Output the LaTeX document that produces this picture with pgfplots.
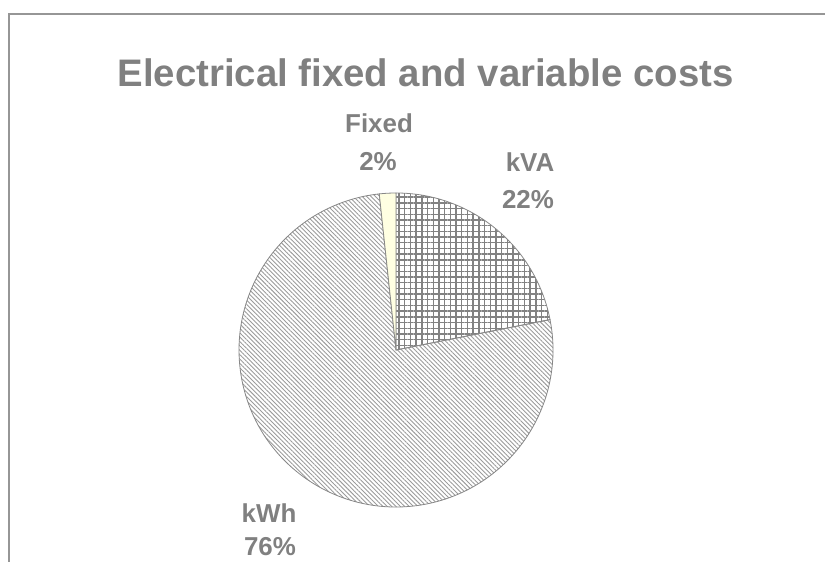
\documentclass[border=0pt]{standalone}
\usepackage{pgfplots}
\pgfplotsset{compat=1.18}
\usepackage{pgfplotstable}
\usetikzlibrary{patterns,patterns.meta}
\usepackage{fontspec}
\setmainfont{Liberation Sans}
\definecolor{txtgray}{RGB}{128,128,128}
\definecolor{edgegray}{RGB}{135,135,135}
\definecolor{gridgray}{RGB}{130,130,130}
\definecolor{hatchgray}{RGB}{155,155,155}
\definecolor{framegray}{RGB}{150,150,150}
\definecolor{fixedfill}{RGB}{255,255,226}

\pgfplotstableread{
label value
kVA 21.9
kWh 76.4
Fixed 1.7
}\costs

\begin{document}
\begin{tikzpicture}
\pgfplotstablegetelem{0}{value}\of\costs \let\vA\pgfplotsretval
\pgfplotstablegetelem{1}{value}\of\costs \let\vB\pgfplotsretval
\pgfplotstablegetelem{2}{value}\of\costs \let\vC\pgfplotsretval
\pgfmathsetmacro\aA{90}
\pgfmathsetmacro\aB{90-3.6*\vA}
\pgfmathsetmacro\aC{\aB-3.6*\vB}
\pgfmathsetmacro\aD{\aC-3.6*\vC}
\begin{axis}[name=ax, x=1bp, y=1bp, xmin=0, xmax=825, ymin=0, ymax=562,
  scale only axis, hide axis, clip=false]
% frame
\draw[framegray, line width=1.3bp] (axis cs:9,0) -- (axis cs:9,548) -- (axis cs:825,548);
% kVA
\addplot[draw=edgegray, line width=0.8bp, pattern={Hatch[angle=0,distance=5.7bp,line width=1.4bp]}, pattern color=gridgray]
  coordinates {(396,212)} -- ++(\aA:157bp) arc[start angle=\aA, end angle=\aB, radius=157bp] -- cycle;
% kWh
\addplot[draw=edgegray, line width=0.8bp, pattern={Lines[angle=-45,distance=3.1bp,line width=0.9bp]}, pattern color=hatchgray]
  coordinates {(396,212)} -- ++(\aB:157bp) arc[start angle=\aB, end angle=\aC, radius=157bp] -- cycle;
% Fixed
\addplot[draw=edgegray, line width=0.8bp, fill=fixedfill]
  coordinates {(396,212)} -- ++(\aC:157bp) arc[start angle=\aC, end angle=\aD, radius=157bp] -- cycle;
% title
\node[anchor=base, text=txtgray, font=\fontsize{38.5}{46}\selectfont\bfseries, inner sep=0pt]
  at (axis cs:425.5,475) {Electrical fixed and variable costs};
% labels
\node[anchor=base, text=txtgray, font=\fontsize{26}{30}\selectfont\bfseries, inner sep=0pt] at (axis cs:379,429) {Fixed};
\node[anchor=base, text=txtgray, font=\fontsize{26}{30}\selectfont\bfseries, inner sep=0pt] at (axis cs:378,391) {2\%};
\node[anchor=base, text=txtgray, font=\fontsize{26}{30}\selectfont\bfseries, inner sep=0pt] at (axis cs:530,390) {kVA};
\node[anchor=base, text=txtgray, font=\fontsize{26}{30}\selectfont\bfseries, inner sep=0pt] at (axis cs:528,353) {22\%};
\node[anchor=base, text=txtgray, font=\fontsize{26}{30}\selectfont\bfseries, inner sep=0pt] at (axis cs:269,39) {kWh};
\node[anchor=base, text=txtgray, font=\fontsize{26}{30}\selectfont\bfseries, inner sep=0pt] at (axis cs:270,6) {76\%};
\end{axis}
\pgfresetboundingbox
\path (ax.south west) rectangle (ax.north east);
\end{tikzpicture}
\end{document}
